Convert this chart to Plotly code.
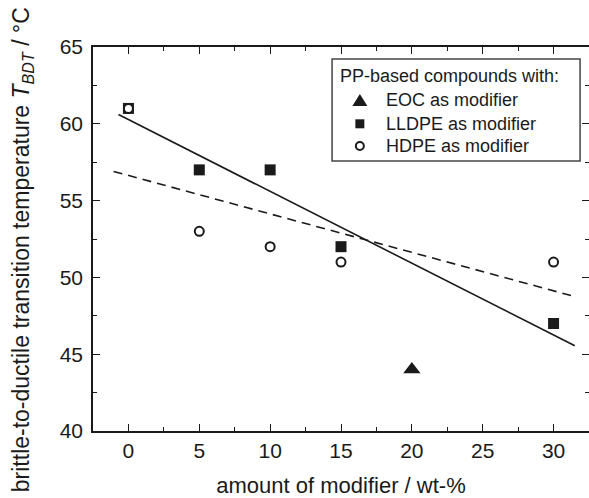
import plotly.graph_objects as go

# Brittle-to-ductile transition temperature vs. modifier content
eoc_x = [20]
eoc_y = [44]

lldpe_x = [0, 5, 10, 15, 30]
lldpe_y = [61, 57, 57, 52, 47]

hdpe_x = [0, 5, 10, 15, 30]
hdpe_y = [61, 53, 52, 51, 51]

# Linear trend lines (endpoints)
lldpe_fit_x = [-0.7, 31.5]
lldpe_fit_y = [60.6, 45.55]
hdpe_fit_x = [-1.05, 31.5]
hdpe_fit_y = [56.9, 48.75]

legend_title = "PP-based compounds with:"
legend_labels = ["EOC as modifier", "LLDPE as modifier", "HDPE as modifier"]

FONT = "Liberation Sans, Arial, sans-serif"
INK = "#1a1a1a"

fig = go.Figure()

fig.add_trace(go.Scatter(x=lldpe_fit_x, y=lldpe_fit_y, mode="lines",
                         line=dict(color=INK, width=1.6), showlegend=False,
                         hoverinfo="skip"))
fig.add_trace(go.Scatter(x=hdpe_fit_x, y=hdpe_fit_y, mode="lines",
                         line=dict(color=INK, width=1.6, dash="9px,6px"),
                         showlegend=False, hoverinfo="skip"))

fig.add_trace(go.Scatter(x=eoc_x, y=eoc_y, mode="markers", name=legend_labels[0],
                         showlegend=False,
                         marker=dict(symbol="triangle-up", size=15, color=INK,
                                     line=dict(width=0))))
fig.add_trace(go.Scatter(x=lldpe_x, y=lldpe_y, mode="markers", name=legend_labels[1],
                         showlegend=False,
                         marker=dict(symbol="square", size=11, color=INK,
                                     line=dict(width=0))))
fig.add_trace(go.Scatter(x=hdpe_x, y=hdpe_y, mode="markers", name=legend_labels[2],
                         showlegend=False,
                         marker=dict(symbol="circle", size=9, color="white",
                                     line=dict(width=2, color=INK))))

axis_common = dict(
    showline=True, linecolor=INK, linewidth=1.5, mirror="allticks",
    ticks="inside", ticklen=7, tickwidth=1.3, tickcolor=INK,
    showgrid=False, zeroline=False, automargin=False,
    tickfont=dict(family=FONT, size=21, color=INK),
)

# --- legend box, drawn in paper coordinates ---
box = dict(x0=0.482, x1=0.982, y0=0.703, y1=0.969)
row_y = [0.861, 0.800, 0.742]
key_x = 0.538
text_x = 0.587

shapes = [dict(type="rect", xref="paper", yref="paper", layer="above",
               line=dict(color="#444", width=1.5), fillcolor="white", **box)]
key_common = dict(xref="paper", yref="paper", xsizemode="pixel", ysizemode="pixel",
                  xanchor=key_x, layer="above")
shapes.append(dict(type="path", path="M-7.5,-5.5 L7.5,-5.5 L0,6.5 Z",
                   yanchor=row_y[0], fillcolor=INK, line=dict(width=0), **key_common))
shapes.append(dict(type="rect", x0=-4.5, x1=4.5, y0=-4.5, y1=4.5,
                   yanchor=row_y[1], fillcolor=INK, line=dict(width=0), **key_common))
shapes.append(dict(type="circle", x0=-4, x1=4, y0=-4, y1=4,
                   yanchor=row_y[2], fillcolor="white", line=dict(width=2, color=INK),
                   **key_common))

annotations = [dict(text=legend_title, xref="paper", yref="paper", x=0.494, y=0.925,
                    xanchor="left", yanchor="middle", showarrow=False,
                    font=dict(family=FONT, size=18, color=INK))]
for label, yy in zip(legend_labels, row_y):
    annotations.append(dict(text=label, xref="paper", yref="paper", x=text_x, y=yy,
                            xanchor="left", yanchor="middle", showarrow=False,
                            font=dict(family=FONT, size=18, color=INK)))

# y-axis title
annotations.append(dict(
    text="brittle-to-ductile transition temperature <i>T</i><sub><i>BDT</i></sub> / °C",
    xref="paper", yref="paper", x=-0.143, y=0.471, textangle=-90,
    xanchor="center", yanchor="middle", showarrow=False,
    font=dict(family=FONT, size=23, color=INK)))

fig.update_layout(
    width=589, height=498,
    margin=dict(l=93, r=0, t=47, b=67, autoexpand=False),
    plot_bgcolor="white", paper_bgcolor="white",
    font=dict(family=FONT, color=INK),
    showlegend=False,
    xaxis=dict(range=[-2.5, 32.5], tickvals=[0, 5, 10, 15, 20, 25, 30],
               minor=dict(ticks="inside", ticklen=4, tickwidth=1.2, dtick=2.5,
                          tick0=0, tickcolor=INK),
               title=dict(text="amount of modifier / wt-%", standoff=22,
                          font=dict(family=FONT, size=22, color=INK)),
               **axis_common),
    yaxis=dict(range=[40, 65], tickvals=[40, 45, 50, 55, 60, 65],
               minor=dict(ticks="inside", ticklen=4, tickwidth=1.2, dtick=2.5,
                          tick0=0, tickcolor=INK),
               ticklabelstandoff=4,
               **axis_common),
    shapes=shapes,
    annotations=annotations,
)

fig.write_html("out.html")
